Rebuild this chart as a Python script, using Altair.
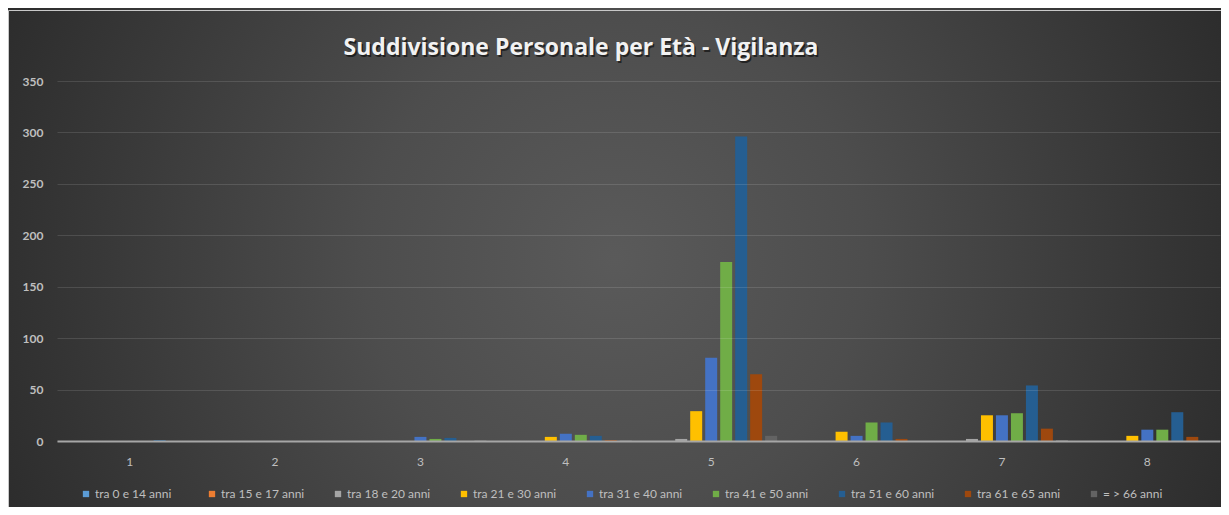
import altair as alt
import pandas as pd

groups = ["1", "2", "3", "4", "5", "6", "7", "8"]
series = ["tra 0 e 14 anni", "tra 15 e 17 anni", "tra 18 e 20 anni", "tra 21 e 30 anni",
          "tra 31 e 40 anni", "tra 41 e 50 anni", "tra 51 e 60 anni", "tra 61 e 65 anni",
          "= > 66 anni"]
colors = ["#5B9BD5", "#ED7D31", "#A5A5A5", "#FFC000", "#4472C4", "#70AD47",
          "#255E91", "#9E480E", "#636363"]
title_text = "Suddivisione Personale per Età - Vigilanza"

# values per group, in series order
g1 = [0, 0, 0, 0, 0, 0, 1, 0, 0]
g2 = [0, 0, 0, 0, 0, 0, 0, 0, 0]
g3 = [0, 0, 0, 0, 4, 2, 3, 0, 1]
g4 = [0, 0, 0, 4, 7, 6, 5, 1, 1]
g5 = [0, 0, 2, 29, 81, 174, 296, 65, 5]
g6 = [0, 0, 0, 9, 5, 18, 18, 2, 0]
g7 = [0, 0, 2, 25, 25, 27, 54, 12, 1]
g8 = [0, 0, 0, 5, 11, 11, 28, 4, 0]
values = [g1, g2, g3, g4, g5, g6, g7, g8]

rows = []
for g, vals in zip(groups, values):
    for s, v in zip(series, vals):
        rows.append({"gruppo": g, "serie": s, "valore": v})
df = pd.DataFrame(rows)

W, H = 1163, 360
PL, PT, PR, PB = 49, 73, 1, 66
FONT = "Lato"
TFONT = "Open Sans"

bg = alt.Chart(alt.Data(values=[{}])).mark_rect(
    fill={"gradient": "radial", "x1": 0.5, "y1": 0.5, "x2": 0.5, "y2": 0.5,
          "r1": 0, "r2": 0.5,
          "stops": [{"offset": 0, "color": "#5a5a5a"},
                    {"offset": 0.35, "color": "#4d4d4d"},
                    {"offset": 1, "color": "#282828"}]},
).encode(
    x=alt.value(-PL), x2=alt.value(W + PR),
    y=alt.value(-PT + 2 - 465), y2=alt.value(H + PB + 465),
)

border = alt.Chart(alt.Data(values=[{}])).mark_rect(
    fill="transparent", stroke="#c8c8c8", strokeWidth=1
).encode(
    x=alt.value(-PL + 0.5), x2=alt.value(W + PR + 5),
    y=alt.value(-PT + 2.5), y2=alt.value(H + PB + 20),
)

title_shadow = alt.Chart(alt.Data(values=[{}])).mark_text(
    text=title_text, font=TFONT, fontSize=23, fontWeight="bold",
    color="#000000", opacity=0.55, align="center", baseline="alphabetic",
).encode(x=alt.value(581 - 57 + 1.5), y=alt.value(55 - 81 + 1.5))

title = alt.Chart(alt.Data(values=[{}])).mark_text(
    text=title_text, font=TFONT, fontSize=23, fontWeight="bold",
    color="#f2f2f2", align="center", baseline="alphabetic",
).encode(x=alt.value(581 - 57), y=alt.value(55 - 81))

bars = alt.Chart(df).mark_bar().encode(
    x=alt.X("gruppo:N", sort=groups,
            scale=alt.Scale(paddingInner=0, paddingOuter=0),
            axis=alt.Axis(title=None, labelAngle=0, ticks=False, domain=True,
                          domainColor="#a6a6a6", domainWidth=2,
                          labelColor="#bfbfbf", labelFontSize=12, labelFont=FONT,
                          labelPadding=15, grid=False, zindex=1)),
    xOffset=alt.XOffset("serie:N", sort=series,
                        scale=alt.Scale(paddingInner=0.2, paddingOuter=0.45)),
    y=alt.Y("valore:Q", scale=alt.Scale(domain=[0, 350], nice=False),
            axis=alt.Axis(title=None, values=[0, 50, 100, 150, 200, 250, 300, 350],
                          ticks=False, domain=False, labelColor="#bfbfbf",
                          labelFontSize=12, labelFont=FONT, labelFontWeight="bold",
                          labelPadding=14,
                          grid=True, gridColor="#ffffff", gridOpacity=0.12,
                          gridWidth=1, zindex=1)),
    color=alt.Color("serie:N", sort=series,
                    scale=alt.Scale(domain=series, range=colors),
                    legend=alt.Legend(title=None, orient="none", direction="horizontal",
                                      columns=9, legendX=23, legendY=407,
                                      symbolType="square", symbolSize=40,
                                      symbolStrokeWidth=0, symbolOffset=0,
                                      labelColor="#bfbfbf", labelFontSize=12,
                                      labelFont=FONT, labelOffset=3,
                                      gridAlign="all", columnPadding=27,
                                      padding=0, zindex=1)),
)

chart = alt.layer(bg, border, title_shadow, title, bars).properties(
    width=W, height=H,
    autosize=alt.AutoSizeParams(type="none"),
    padding={"left": PL, "top": PT, "right": PR, "bottom": PB},
).configure_view(stroke=None).configure(background="#ffffff")

chart.save("out.html", embed_options={"renderer": "svg", "actions": False})
